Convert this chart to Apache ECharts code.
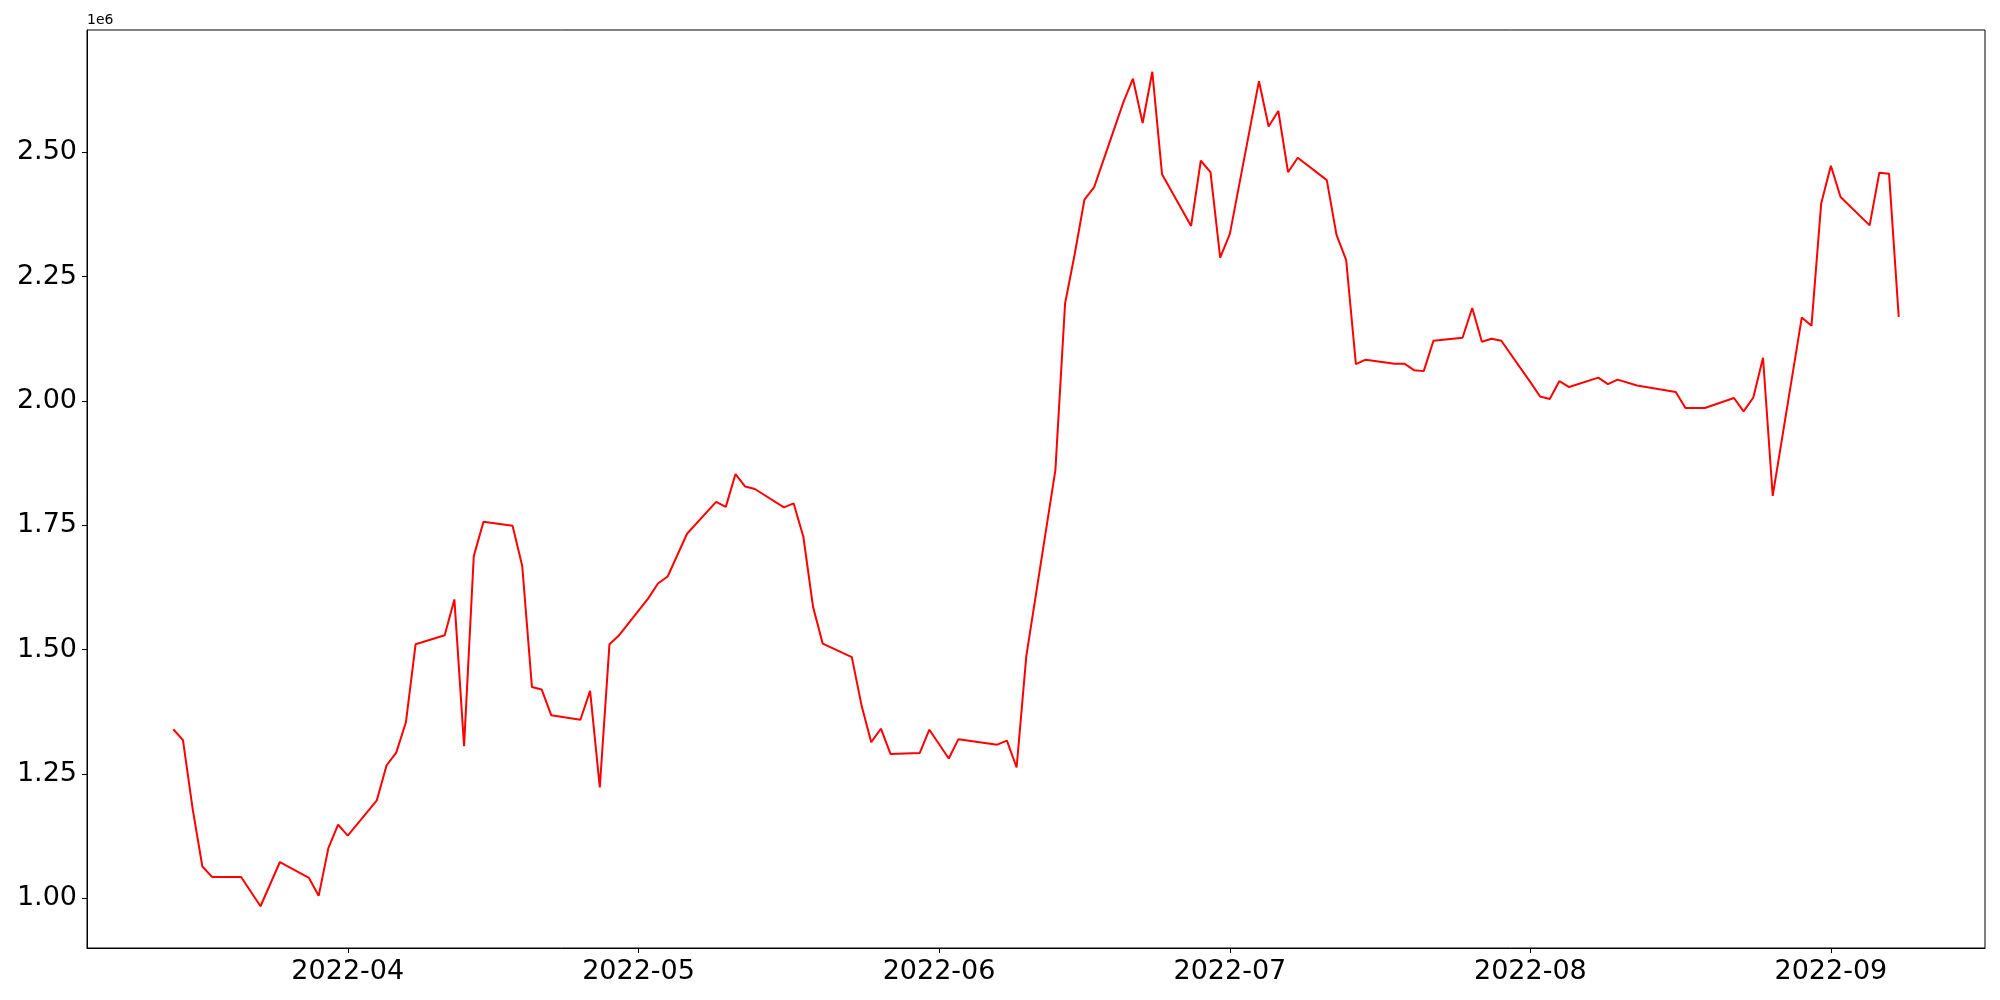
<!DOCTYPE html>
<html>
<head>
<meta charset="utf-8">
<script src="https://cdn.jsdelivr.net/npm/echarts@6/dist/echarts.min.js"></script>
<style>html,body{margin:0;padding:0;background:#fff;}#chart{width:2000px;height:1000px;}</style>
</head>
<body>
<div id="chart"></div>
<script>
const dates = [
'2022-03-14','2022-03-15','2022-03-16','2022-03-17','2022-03-18','2022-03-21','2022-03-23','2022-03-25',
'2022-03-28','2022-03-29','2022-03-30','2022-03-31','2022-04-01','2022-04-04','2022-04-05','2022-04-06',
'2022-04-07','2022-04-08','2022-04-11','2022-04-12','2022-04-13','2022-04-14','2022-04-15','2022-04-18',
'2022-04-19','2022-04-20','2022-04-21','2022-04-22','2022-04-25','2022-04-26','2022-04-27','2022-04-28',
'2022-04-29','2022-05-02','2022-05-03','2022-05-04','2022-05-06','2022-05-09','2022-05-10','2022-05-11',
'2022-05-12','2022-05-13','2022-05-16','2022-05-17','2022-05-18','2022-05-19','2022-05-20','2022-05-23',
'2022-05-24','2022-05-25','2022-05-26','2022-05-27','2022-05-30','2022-05-31','2022-06-02','2022-06-03',
'2022-06-07','2022-06-08','2022-06-09','2022-06-10','2022-06-13','2022-06-14','2022-06-15','2022-06-16',
'2022-06-17','2022-06-20','2022-06-21','2022-06-22','2022-06-23','2022-06-24','2022-06-27','2022-06-28',
'2022-06-29','2022-06-30','2022-07-01','2022-07-04','2022-07-05','2022-07-06','2022-07-07','2022-07-08',
'2022-07-11','2022-07-12','2022-07-13','2022-07-14','2022-07-15','2022-07-18','2022-07-19','2022-07-20',
'2022-07-21','2022-07-22','2022-07-25','2022-07-26','2022-07-27','2022-07-28','2022-07-29','2022-08-01',
'2022-08-02','2022-08-03','2022-08-04','2022-08-05','2022-08-08','2022-08-09','2022-08-10','2022-08-12',
'2022-08-16','2022-08-17','2022-08-19','2022-08-22','2022-08-23','2022-08-24','2022-08-25','2022-08-26',
'2022-08-29','2022-08-30','2022-08-31','2022-09-01','2022-09-02','2022-09-05','2022-09-06','2022-09-07',
'2022-09-08'
];
const values = [
1340000,1318000,1180000,1064000,1043000,1043000,984000,1073000,
1041000,1005000,1101000,1148000,1126000,1197000,1267000,1293000,
1354000,1511000,1529000,1601000,1306000,1688000,1757000,1749000,
1668000,1425000,1420000,1368000,1359000,1417000,1223000,1511000,
1529000,1603000,1633000,1647000,1733000,1797000,1787000,1853000,
1828000,1823000,1786000,1794000,1727000,1586000,1512000,1485000,
1388000,1314000,1341000,1290000,1292000,1339000,1281000,1320000,
1309000,1317000,1263000,1487000,1861000,2196000,2296000,2405000,
2430000,2600000,2648000,2559000,2662000,2456000,2352000,2483000,
2460000,2288000,2336000,2643000,2552000,2583000,2460000,2489000,
2444000,2334000,2283000,2074000,2083000,2075000,2075000,2062000,
2060000,2121000,2127000,2187000,2119000,2125000,2121000,2038000,
2009000,2004000,2040000,2028000,2047000,2034000,2043000,2031000,
2018000,1986000,1986000,2006000,1979000,2007000,2087000,1809000,
2168000,2151000,2397000,2473000,2410000,2353000,2459000,2457000,
2169000
];
const yTicks = [1000000,1250000,1500000,1750000,2000000,2250000,2500000];
const xTickLabels = ['2022-04','2022-05','2022-06','2022-07','2022-08','2022-09'];

function ts(s){ const p = s.split('-').map(Number); return Date.UTC(p[0], p[1]-1, p[2] || 1); }
const xTicks = xTickLabels.map(ts);
const data = dates.map((d,i)=>[ts(d), values[i]]);
const span = ts(dates[dates.length-1]) - ts(dates[0]);
const xMin = ts(dates[0]) - span*0.05, xMax = ts(dates[dates.length-1]) + span*0.05;
const vMin = Math.min(...values), vMax = Math.max(...values);
const yMin = vMin - (vMax-vMin)*0.05, yMax = vMax + (vMax-vMin)*0.05;

const chart = echarts.init(document.getElementById('chart'), null, {renderer:'canvas'});
const font = 'DejaVu Sans';
chart.setOption({
  animation:false,
  backgroundColor:'#fff',
  grid:{left:87, top:30, right:15, bottom:52, show:true, borderColor:'#000', borderWidth:1, backgroundColor:'transparent'},
  xAxis:{
    type:'value', min:xMin, max:xMax, scale:true,
    axisLine:{show:true, onZero:false, lineStyle:{color:'#000', width:1}},
    axisTick:{show:true, inside:false, length:5, lineStyle:{color:'#000'}, customValues:xTicks},
    axisLabel:{fontFamily:font, fontSize:27, color:'#000', margin:10, customValues:xTicks,
      formatter:function(v){ const d=new Date(v); return d.getUTCFullYear()+'-'+String(d.getUTCMonth()+1).padStart(2,'0'); }},
    splitLine:{show:false}
  },
  yAxis:{
    type:'value', min:yMin, max:yMax, scale:true,
    axisLine:{show:true, onZero:false, lineStyle:{color:'#000', width:1}},
    axisTick:{show:true, inside:false, length:5, lineStyle:{color:'#000'}, customValues:yTicks},
    axisLabel:{fontFamily:font, fontSize:27, color:'#000', margin:10, customValues:yTicks,
      formatter:function(v){ return (v/1e6).toFixed(2); }},
    splitLine:{show:false}
  },
  graphic:[{type:'text', left:87, top:13, style:{text:'1e6', font:'14px "DejaVu Sans"', fill:'#000'}}],
  series:[{
    type:'line', data:data, showSymbol:false, symbol:'none',
    lineStyle:{color:'#ff0000', width:2}, itemStyle:{color:'#ff0000'}
  }]
});
</script>
</body>
</html>
